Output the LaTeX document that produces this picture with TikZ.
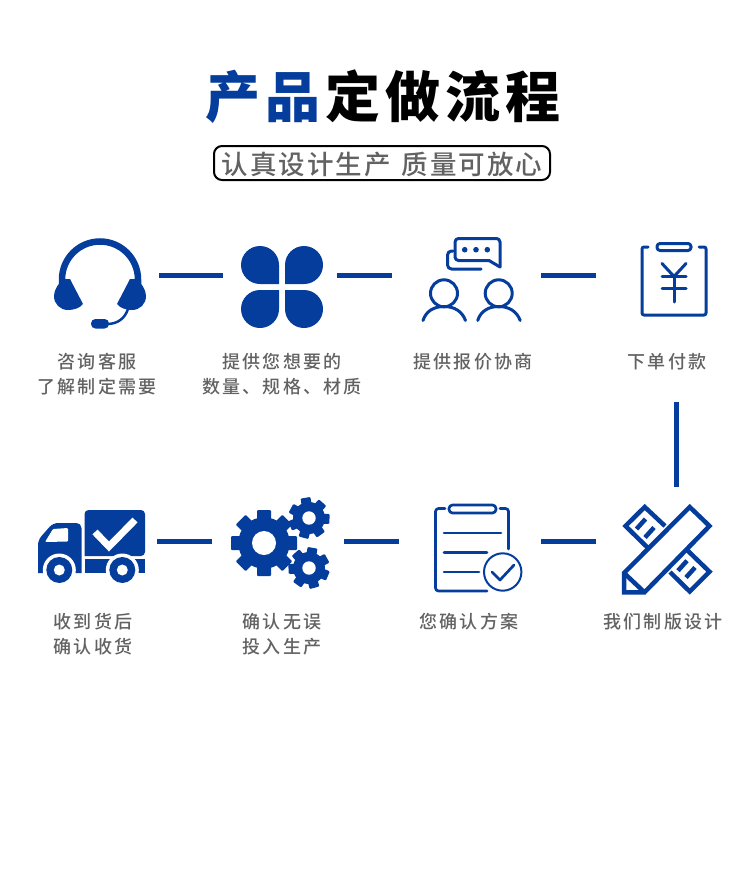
\documentclass[tikz,border=0pt]{standalone}
\usepackage{fontspec}
\newfontfamily\cjktitle[LetterSpace=9]{Noto Sans CJK SC Black}
\newfontfamily\cjksub[LetterSpace=7.5]{Noto Sans CJK SC Medium}
\newfontfamily\cjklabel[LetterSpace=12]{Noto Sans CJK SC Medium}
\definecolor{brandblue}{RGB}{4,61,155}
\definecolor{labelgrey}{RGB}{98,98,98}
\begin{document}
\begin{tikzpicture}[
x=1pt,y=-1pt,
link/.style={draw=brandblue,line width=5pt},
iconline/.style={draw=brandblue,line width=3pt,line cap=round,line join=round},
iconfill/.style={fill=brandblue},
iconbox/.style={minimum height=20pt,inner sep=0pt,outer sep=0pt},
rulerline/.style={draw=brandblue,line width=4.5pt,line join=miter},
steplabel/.style={font=\cjklabel\fontsize{18pt}{25pt}\selectfont,text=labelgrey,align=center,inner sep=0pt}
]
\useasboundingbox (0,0) rectangle (750,888);

% title
\node (title) at (383,97) {\cjktitle\fontsize{55pt}{60pt}\selectfont\textcolor{brandblue}{产品}\kern5pt 定做流程};
\node (subframe) [draw,line width=2pt,rounded corners=8pt,minimum width=336pt,minimum height=34pt,inner sep=0pt] at (382,163) {};
\node (subtitle) [inner sep=0pt,text=labelgrey] at (382,164.5) {\cjksub\fontsize{26.5pt}{28pt}\selectfont 认真设计生产\kern11pt 质量可放心};

% boxes that hold the icons
\node (consult) [iconbox,minimum width=120pt] at (99,275) {};
\node (offer) [iconbox,minimum width=114pt] at (280,275) {};
\node (talk) [iconbox,minimum width=149pt] at (466.5,275) {};
\node (pay) [iconbox,minimum width=120pt] at (656,275) {};
\node (truck) [iconbox,minimum width=120pt] at (97,541) {};
\node (gears) [iconbox,minimum width=132pt] at (278,541) {};
\node (confirm) [iconbox,minimum width=142pt] at (470,541) {};
\node (plate) [iconbox,minimum width=120pt] at (656,541) {};
\coordinate (payend) at (676,402);
\coordinate (plateend) at (676,487);

\draw[link] (consult.east)--(offer.west);
\draw[link] (offer.east)--(talk.west);
\draw[link] (talk.east)--(pay.west);
\draw[link] (payend)--(plateend);
\draw[link] (truck.east)--(gears.west);
\draw[link] (gears.east)--(confirm.west);
\draw[link] (confirm.east)--(plate.west);

% headset
\draw[draw=brandblue,line width=6.5pt] (62,284) -- (62,279.5) arc[start angle=180,end angle=0,radius=38pt] -- (138,284);
\foreach \s/\o in {1/0,-1/200}{
	\fill[iconfill,xshift=\o pt,xscale=\s] (65,279) .. controls (58,283) and (54,290) .. (54,296) .. controls (54,304) and (60,310) .. (68,310) .. controls (74,310) and (80,308) .. (83,304) -- (70,279) -- cycle;
}
\draw[draw=brandblue,line width=2.5pt] (128,309) .. controls (125,318) and (118,324) .. (107,324);
\fill[iconfill,rounded corners=4.4pt] (91,319) rectangle (109,328.5);

% clover
\foreach \a in {0,90,180,270}{
	\fill[iconfill,rotate around={\a:(282,287)}] (285,290) [rounded corners=19pt] -- (323,290) -- (323,328) -- (285,328) -- (285,290);
}

% people with chat bubbles
\draw[iconline,rounded corners=3.5pt] (500,267) -- (500,238.5) -- (455,238.5) -- (455,260.5) -- (489,260.5);
\draw[iconline] (489,260.5) -- (500,267);
\draw[iconline,rounded corners=4pt] (453,251) -- (447.5,251) -- (447.5,269) -- (481,269);
\foreach \x in {464.7,476,487.3}{
	\fill[iconfill] (\x,249.7) circle (2.8pt);
}
\foreach \d in {0,54.7}{
	\draw[iconline,xshift=\d pt] (444,293.3) circle (13.5pt);
	\draw[iconline,xshift=\d pt] (423,320.5) .. controls (426,311) and (434,306.5) .. (444,306.5) .. controls (454,306.5) and (462,311) .. (465.5,320.5);
}

% clipboard with yen
\draw[iconline,rounded corners=2pt] (648,247) -- (642,247) -- (642,315) -- (706,315) -- (706,247) -- (699,247);
\draw[iconline,rounded corners=3pt] (657,243.5) rectangle (691,250.5);
\draw[iconline] (662,263.5) -- (674,276.5) -- (686,263.5);
\draw[iconline] (674,276.5) -- (674,302);
\draw[iconline] (662,276.5) -- (686,276.5);
\draw[iconline] (662,288.3) -- (686,288.3);

% truck
\fill[iconfill,rounded corners=4pt] (84.5,556) -- (84.5,510) -- (145,510) -- (145,556) [sharp corners] -- cycle;
\fill[iconfill] (84.5,559) rectangle (145,573);
\fill[iconfill] (38,573) [rounded corners=5pt] -- (38,540) -- (53,523) -- (81.5,523) [sharp corners] -- (81.5,573) -- cycle;
\fill[white,rounded corners=1pt] (45,542) -- (53,529) -- (68,528) -- (68,541.5) -- cycle;
\foreach \x in {59.3,122.3}{
	\fill[white] (\x,570) circle (16.5pt);
	\fill[iconfill] (\x,570) circle (13pt);
	\fill[white] (\x,570) circle (5.5pt);
}
\draw[draw=white,line width=7pt] (95,532) -- (109,546.5) -- (135,520);

% gears
\foreach \cx/\cy/\r/\w/\n/\o/\h in {264/543/33/14/8/0/12,309/518/20.5/10/7/10/6.7,309/568/20.5/10/7/-10/6.7}{
	\fill[iconfill] (\cx,\cy) circle (\r*0.78 pt);
	\pgfmathsetmacro{\stepa}{360/\n}
	\foreach \k in {1,...,\n}{
		\fill[iconfill,rotate around={\k*\stepa+\o:(\cx,\cy)},rounded corners=1pt] (\cx-\w/2,\cy-\r) rectangle (\cx+\w/2,\cy);
	}
	\fill[white] (\cx,\cy) circle (\h pt);
}

% clipboard with check
\draw[iconline,line width=2.7pt,rounded corners=3pt] (445,508.5) -- (435.5,508.5) -- (435.5,591) -- (487,591);
\draw[iconline,line width=2.7pt,rounded corners=3pt] (500,508.5) -- (508.5,508.5) -- (508.5,549);
\draw[iconline,line width=2.7pt,rounded corners=3.5pt] (449,505) rectangle (496,513);
\draw[iconline,line width=2.7pt] (444,533) -- (501,533);
\draw[iconline,line width=2.7pt] (444,552.5) -- (487,552.5);
\draw[iconline,line width=2.7pt] (444,572) -- (479,572);
\draw[iconline,line width=2pt] (502.7,572) circle (18.7pt);
\draw[iconline,line width=2.7pt] (492,572) -- (500,580) -- (514,565);

% ruler and pencil
\draw[rulerline] (624,592.3) -- (624,573) -- (689.7,507) -- (709.5,526) -- (644.5,592.3) -- cycle;
\draw[rulerline] (624,573) -- (644.5,592.3);
\draw[rulerline] (665,526) -- (644.7,507) -- (625.5,526) -- (649,549);
\draw[rulerline] (686,549) -- (709.5,571.7) -- (689.7,591.5) -- (670,572);
\foreach \x/\y in {645.5/519,654/527.5,687/560.7,695/567.5}{
	\draw[draw=brandblue,line width=4.5pt] (\x,\y) -- (\x-9,\y+10);
}

% labels
\node (consulttext) [steplabel] at (97,374) {咨询客服\\了解制定需要};
\node (offertext) [steplabel] at (282,374) {提供您想要的\\数量、规格、材质};
\node (talktext) [steplabel] at (473,361.5) {提供报价协商};
\node (paytext) [steplabel] at (667,361.5) {下单付款};
\node (trucktext) [steplabel] at (93,634) {收到货后\\确认收货};
\node (gearstext) [steplabel] at (282,634) {确认无误\\投入生产};
\node (confirmtext) [steplabel] at (469,621.5) {您确认方案};
\node (platetext) [steplabel] at (663,621.5) {我们制版设计};
\end{tikzpicture}
\end{document}
